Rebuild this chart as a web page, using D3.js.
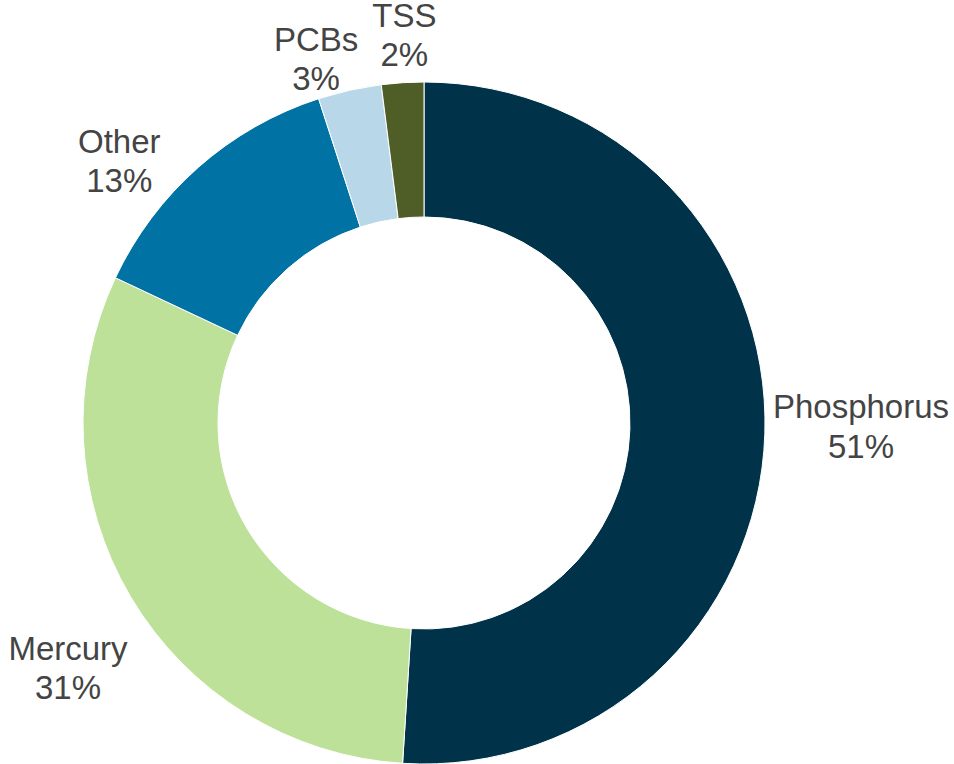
<!DOCTYPE html>
<html>
<head>
<meta charset="utf-8">
<script src="https://cdn.jsdelivr.net/npm/d3@7"></script>
<style>
  html, body { margin: 0; padding: 0; background: #ffffff; }
  svg { display: block; }
</style>
</head>
<body>
<script>
// ---- data ----
const categories = ["Phosphorus", "Mercury", "Other", "PCBs", "TSS"];
const values = [51, 31, 13, 3, 2];
const percentLabels = ["51%", "31%", "13%", "3%", "2%"];

// ---- style / layout ----
const colors = ["#003349", "#BDE198", "#0072A3", "#B8D8EA", "#4F5E26"];
const labelRadius = [437, 432, 402, 380, 389];
const labelAngleShift = [-1.4, -3.9, -7.9, -3.9, 0.7]; // degrees

const W = 954, H = 764;
const cx = 424, cy = 423;
const outerR = 341, innerR = 206;

const svg = d3.select("body").append("svg")
  .attr("width", W).attr("height", H);

const data = categories.map((c, i) => ({ name: c, value: values[i], pct: percentLabels[i], i }));

const pie = d3.pie().sort(null).value(d => d.value);
const arcs = pie(data);
const arc = d3.arc().innerRadius(innerR).outerRadius(outerR);

const g = svg.append("g").attr("transform", `translate(${cx},${cy})`);

g.selectAll("path.slice")
  .data(arcs)
  .join("path")
  .attr("class", "slice")
  .attr("d", arc)
  .attr("fill", d => colors[d.data.i])
  .attr("stroke", "#ffffff")
  .attr("stroke-width", 1);

const fontSize = 33, lineGap = 39.5, capH = 23.5;

g.selectAll("text.lbl")
  .data(arcs)
  .join("text")
  .attr("class", "lbl")
  .attr("font-family", "'Liberation Sans', Arial, sans-serif")
  .attr("font-size", fontSize)
  .attr("fill", "#444444")
  .attr("text-anchor", "middle")
  .each(function(d) {
    const i = d.data.i;
    const mid = (d.startAngle + d.endAngle) / 2 + labelAngleShift[i] * Math.PI / 180;
    const r = labelRadius[i];
    const x = r * Math.sin(mid);
    const y = -r * Math.cos(mid);
    const b1 = y - (lineGap - capH) / 2;
    const t = d3.select(this);
    t.append("tspan").attr("x", x).attr("y", b1).text(d.data.name);
    t.append("tspan").attr("x", x).attr("y", b1 + lineGap).text(d.data.pct);
  });
</script>
</body>
</html>
